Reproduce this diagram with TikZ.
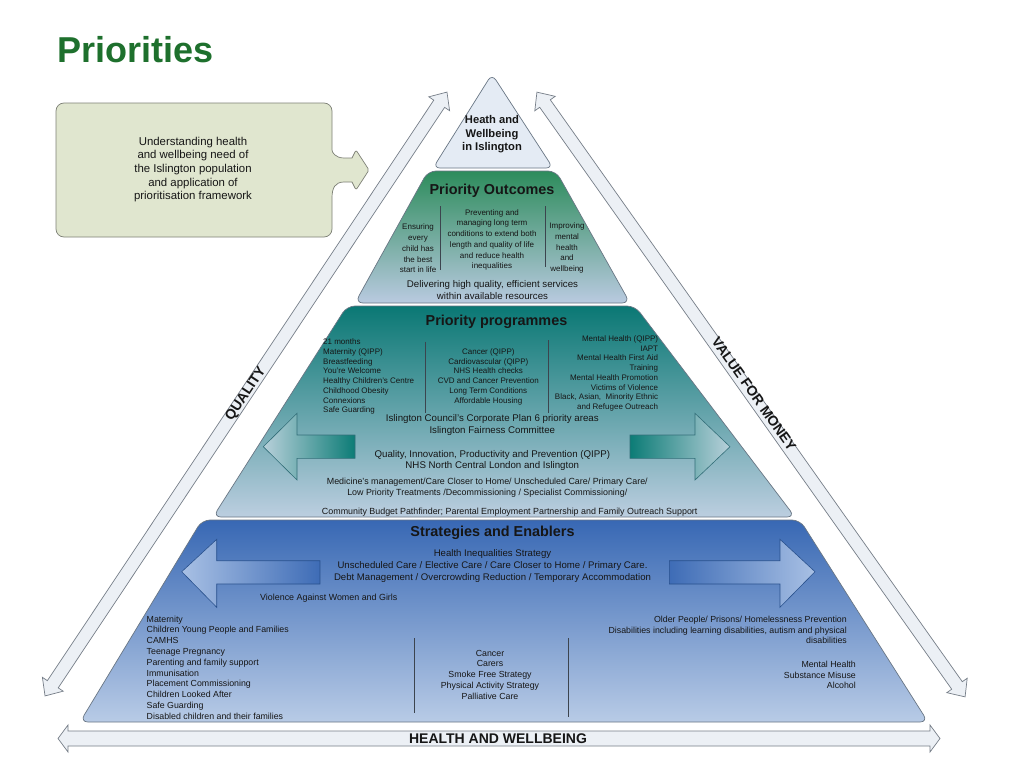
\documentclass[tikz,border=0pt]{standalone}
\usepackage{fontspec}
\setmainfont{Liberation Sans}
\definecolor{titlegreen}{RGB}{30,112,45}
\definecolor{txt}{RGB}{22,22,22}
\definecolor{edge}{RGB}{105,118,132}
\definecolor{boxfill}{RGB}{224,230,207}
\definecolor{boxedge}{RGB}{125,128,118}
\definecolor{bigfill}{RGB}{236,240,245}
\definecolor{bigedge}{RGB}{118,126,136}
\definecolor{apexfill}{RGB}{228,235,244}
\definecolor{outtop}{RGB}{45,140,92}
\definecolor{outmid}{RGB}{95,165,135}
\definecolor{outbot}{RGB}{185,202,224}
\definecolor{progtop}{RGB}{10,120,116}
\definecolor{progmid}{RGB}{72,152,160}
\definecolor{progbot}{RGB}{188,206,224}
\definecolor{strtop}{RGB}{56,104,180}
\definecolor{strmid}{RGB}{112,148,204}
\definecolor{strbot}{RGB}{184,203,230}
\definecolor{seprule}{RGB}{60,68,78}
\definecolor{parrowlight}{RGB}{184,208,218}
\definecolor{parrowdark}{RGB}{12,124,118}
\definecolor{parrowedge}{RGB}{50,110,120}
\definecolor{sarrowlight}{RGB}{168,192,228}
\definecolor{sarrowdark}{RGB}{62,108,182}
\definecolor{sarrowedge}{RGB}{40,80,140}
\tikzset{
  lbl/.style={text=txt, inner sep=0pt},
  bigarrow/.style={fill=bigfill, draw=bigedge, line width=0.7pt},
  layer/.style={draw=edge, line width=0.7pt, rounded corners=8pt},
  seprule/.style={draw=seprule, line width=0.6pt},
  fnine/.style={font=\fontsize{9.7}{11.6}\selectfont},
  feight/.style={font=\fontsize{8}{10.75}\selectfont},
  fprog/.style={font=\fontsize{8}{9.75}\selectfont},
  fmed/.style={font=\fontsize{8.9}{10.6}\selectfont},
  fstr/.style={font=\fontsize{8.8}{10.77}\selectfont},
  ftitle/.style={font=\fontsize{14.4}{16}\selectfont\bfseries},
  fbig/.style={font=\fontsize{14}{16}\selectfont\bfseries},
}
\begin{document}
\begin{tikzpicture}[x=1pt,y=-1pt]
\useasboundingbox (0,0) rectangle (1024,768);
\fill[white] (0,0) rectangle (1024,768);

% title
\node[anchor=west, font=\fontsize{36}{40}\selectfont\bfseries, text=titlegreen, inner sep=0pt] (title) at (57,50) {Priorities};

% left box with tab
\draw[fill=boxfill, draw=boxedge, line width=0.7pt]
  (56,170) [rounded corners=8pt] -- (56,103) -- (332,103) -- (332,142) [sharp corners]
  .. controls (332,152) and (335,158) .. (344,158) -- (352,158) [rounded corners=2pt] -- (356,150) -- (369,170) -- (356,190) [sharp corners] -- (352,182) -- (344,182)
  .. controls (335,182) and (332,188) .. (332,198) [rounded corners=8pt] -- (332,237) -- (56,237) -- cycle;
\node[lbl, align=center, font=\fontsize{11.4}{13.7}\selectfont] (understand) at (193,169.5)
  {Understanding health\\and wellbeing need of\\the Islington population\\and application of\\prioritisation framework};

% big diagonal arrows
\begin{scope}[shift={(246,394)}, rotate=56.35]
\draw[bigarrow] (-362.7,0) -- (-348.7,12.5) -- (-348.7,6.5) -- (348.7,6.5) -- (348.7,12.5) -- (362.7,0) -- (348.7,-12.5) -- (348.7,-6.5) -- (-348.7,-6.5) -- (-348.7,-12.5) -- cycle;
\end{scope}
\node[lbl, fbig, rotate=56.35] (quality) at (246,394) {QUALITY};

\begin{scope}[shift={(751,394.5)}, rotate=-54.7]
\draw[bigarrow] (-370.5,0) -- (-356.5,12.5) -- (-356.5,6.5) -- (356.5,6.5) -- (356.5,12.5) -- (370.5,0) -- (356.5,-12.5) -- (356.5,-6.5) -- (-356.5,-6.5) -- (-356.5,-12.5) -- cycle;
\end{scope}
\node[lbl, fbig, rotate=-54.7] (vfm) at (754,394) {VALUE FOR MONEY};

\begin{scope}[shift={(499,738.5)}]
\draw[bigarrow] (-441,0) -- (-431,13.5) -- (-431,7.5) -- (431,7.5) -- (431,13.5) -- (441,0) -- (431,-13.5) -- (431,-7.5) -- (-431,-7.5) -- (-431,-13.5) -- cycle;
\end{scope}
\node[lbl, fbig] (hw) at (498,738.5) {HEALTH AND WELLBEING};

% apex triangle
\draw[fill=apexfill, draw=edge, line width=0.7pt, rounded corners=7pt] (492,74) -- (553,168) -- (433,168) -- cycle;
\node[lbl, align=center, font=\fontsize{11.2}{13.5}\selectfont\bfseries] (apex) at (492,134.5) {Heath and\\Wellbeing\\in Islington};

% Priority outcomes layer
\shade[layer, top color=outtop, middle color=outmid, bottom color=outbot] (428,171) -- (556,171) -- (630,303) -- (355,303) -- cycle;
\node[lbl, ftitle] (outtitle) at (492,190.5) {Priority Outcomes};
\node[lbl, feight, align=center] (out1) at (418,248.5) {Ensuring\\every\\child has\\the best\\start in life};
\node[lbl, feight, align=center] (out2) at (492,240) {Preventing and\\managing long term\\conditions to extend both\\length and quality of life\\and reduce health\\inequalities};
\node[lbl, feight, align=center] (out3) at (567,248) {Improving\\mental\\health\\and\\wellbeing};
\draw[seprule] (440,206) -- (440,270);
\draw[seprule] (545.7,206) -- (545.7,267);
\node[lbl, fnine, align=center] (outdel) at (492.5,290) {Delivering high quality, efficient services\\within available resources};

% Priority programmes layer
\shade[layer, top color=progtop, middle color=progmid, bottom color=progbot] (347,306) -- (635,306) -- (795,517) -- (213,517) -- cycle;
\node[lbl, ftitle] (progtitle) at (496.5,322) {Priority programmes};
\node[lbl, fprog, align=left, anchor=west] (prog1) at (323,376.7) {21 months\\Maternity (QIPP)\\Breastfeeding\\You're Welcome\\Healthy Children's Centre\\Childhood Obesity\\Connexions\\Safe Guarding};
\node[lbl, fprog, align=center] (prog2) at (488.3,376.7) {Cancer (QIPP)\\Cardiovascular (QIPP)\\NHS Health checks\\CVD and Cancer Prevention\\Long Term Conditions\\Affordable Housing};
\node[lbl, fprog, align=right, anchor=east] (prog3) at (658.3,373.5) {Mental Health (QIPP)\\IAPT\\Mental Health First Aid\\Training\\Mental Health Promotion\\Victims of Violence\\Black, Asian,\ \ Minority Ethnic\\and Refugee Outreach};
\draw[seprule] (425.7,341.7) -- (425.7,413);
\draw[seprule] (548.7,340) -- (548.7,413);
\node[lbl, fnine, align=center] (progisl) at (492.3,425) {Islington Council's Corporate Plan 6 priority areas\\Islington Fairness Committee};
% programme arrows
\shade[left color=parrowlight, right color=parrowdark, draw=parrowedge, line width=0.6pt]
  (263.3,446.7) -- (297,413.3) -- (297,435) -- (355,435) -- (355,458.3) -- (297,458.3) -- (297,480) -- cycle;
\shade[left color=parrowdark, right color=parrowlight, draw=parrowedge, line width=0.6pt]
  (730,446.7) -- (695,413.3) -- (695,435) -- (630,435) -- (630,458.3) -- (695,458.3) -- (695,480) -- cycle;
\node[lbl, fnine, align=center] (progqipp) at (492.3,460.5) {Quality, Innovation, Productivity and Prevention (QIPP)\\NHS North Central London and Islington};
\node[lbl, fmed, align=center] (progmed) at (487.3,487.5) {Medicine's management/Care Closer to Home/ Unscheduled Care/ Primary Care/\\Low Priority Treatments /Decommissioning / Specialist Commissioning/};
\node[lbl, fmed] (progcomm) at (509.7,512.3) {Community Budget Pathfinder; Parental Employment Partnership and Family Outreach Support};

% Strategies layer
\shade[layer, top color=strtop, middle color=strmid, bottom color=strbot] (202,520) -- (800,520) -- (928,722) -- (80,722) -- cycle;
\node[lbl, ftitle] (strtitle) at (492.5,533.3) {Strategies and Enablers};
\node[lbl, font=\fontsize{9.6}{11.9}\selectfont, align=center] (strhi) at (492.5,566.4) {Health Inequalities Strategy\\Unscheduled Care / Elective Care / Care Closer to Home / Primary Care.\\Debt Management / Overcrowding Reduction / Temporary Accommodation};
\shade[left color=sarrowlight, right color=sarrowdark, draw=sarrowedge, line width=0.6pt]
  (181.7,571.7) -- (216.7,539.3) -- (216.7,560.7) -- (320,560.7) -- (320,584) -- (216.7,584) -- (216.7,607.3) -- cycle;
\shade[left color=sarrowdark, right color=sarrowlight, draw=sarrowedge, line width=0.6pt]
  (815,571.7) -- (780,539.3) -- (780,560.7) -- (669.3,560.7) -- (669.3,584) -- (780,584) -- (780,607.3) -- cycle;
\node[lbl, fmed] (strviol) at (328.8,598.3) {Violence Against Women and Girls};
\node[lbl, fstr, align=left, anchor=west] (str1) at (146.5,667.5) {Maternity\\Children Young People and Families\\CAMHS\\Teenage Pregnancy\\Parenting and family support\\Immunisation\\Placement Commissioning\\Children Looked After\\Safe Guarding\\Disabled children and their families};
\node[lbl, fstr, align=center] (str2) at (490,674.5) {Cancer\\Carers\\Smoke Free Strategy\\Physical Activity Strategy\\Palliative Care};
\node[lbl, fstr, align=right, anchor=east] (str3) at (847,630) {Older People/ Prisons/ Homelessness Prevention\\Disabilities including learning disabilities, autism and physical\\disabilities};
\node[lbl, fstr, align=right, anchor=east] (str4) at (856,675) {Mental Health\\Substance Misuse\\Alcohol};
\draw[seprule] (414,638) -- (414,713);
\draw[seprule] (568,638) -- (568,717);
\end{tikzpicture}
\end{document}
